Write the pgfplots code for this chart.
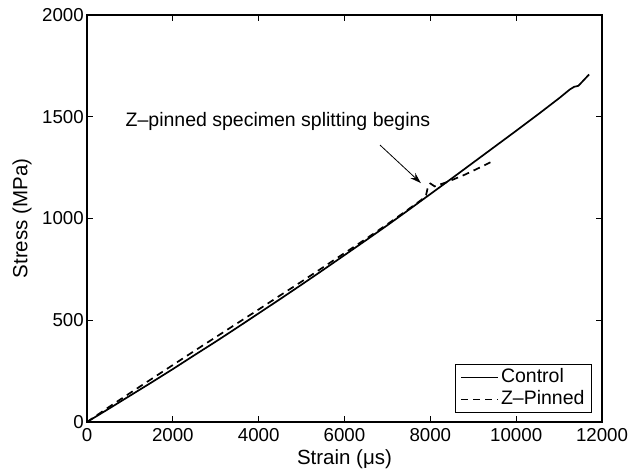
\documentclass[border=0pt]{standalone}
\usepackage{fontspec}
\setmainfont{Liberation Sans}
\usepackage{pgfplots}
\pgfplotsset{compat=1.18}
\usetikzlibrary{arrows.meta}

\newcommand{\tickfont}{\fontsize{18.7bp}{22bp}\selectfont}
\newcommand{\txtfont}{\fontsize{19.5bp}{23bp}\selectfont}
\newcommand{\labfont}{\fontsize{20.5bp}{24bp}\selectfont}

\begin{document}
\begin{tikzpicture}
	\begin{axis}[
		scale only axis,
		width=515bp, height=407bp,
		xmin=0, xmax=12000,
		ymin=0, ymax=2000,
		xtick={0,2000,4000,6000,8000,10000,12000},
		ytick={0,500,1000,1500,2000},
		scaled x ticks=false,
		/pgf/number format/assume math mode=true,
		/pgf/number format/set thousands separator={},
		tick align=inside,
		major tick length=6bp,
		axis line style={line width=1.2bp},
		every tick/.style={black, line width=1bp},
		ticklabel style={font=\tickfont},
		xticklabel style={inner sep=0pt, yshift=-6bp},
		yticklabel style={inner sep=0pt, xshift=-3bp},
		xlabel={Strain (μs)},
		ylabel={Stress (MPa)},
		xlabel style={font=\labfont, inner sep=0pt, at={(axis description cs:0.5,0)}, anchor=north, yshift=-27bp},
		ylabel style={font=\labfont, inner sep=0pt, at={(axis description cs:-0.1262,0.5)}, anchor=center},
		legend style={font=\txtfont, at={(axis description cs:0.9806,0.0221)}, anchor=south east,
			draw=black, line width=1bp, inner xsep=5bp, inner ysep=2bp,
			nodes={text height=14bp, text depth=4bp, inner sep=2bp}},
		legend cell align=left,
		legend image code/.code={\draw[#1] (0bp,0bp) -- (37bp,0bp);},
		]

		% Control specimen
		\addplot[black, line width=1.7bp] coordinates {
			(0,0) (500,64) (1000,129) (1500,194) (2000,260) (2500,328) (3000,395)
			(3500,464) (4000,534) (4500,604) (5000,675) (5500,747) (6000,820)
			(6500,893) (7000,967) (7500,1043) (8000,1120) (8500,1197) (9000,1275)
			(9500,1353) (10000,1431) (10500,1510) (11000,1591) (11250,1634)
			(11350,1647) (11450,1652) (11700,1708)};
		\addlegendentry{Control}

		% Z-pinned specimen
		\addplot[black, line width=1.7bp, dash pattern=on 7bp off 5bp] coordinates {
			(0,0) (500,72) (1000,142) (1500,211) (2000,280) (2500,349) (3000,417)
			(3500,485) (4000,553) (4500,622) (5000,690) (5500,760) (6000,830)
			(6500,900) (7000,972) (7500,1047) (7800,1093) (7900,1115) (7950,1160)
			(8000,1172) (8100,1158) (8400,1180) (8800,1215) (9100,1245) (9400,1276)};
		\addlegendentry{Z–Pinned}

		\node[font=\txtfont, anchor=base, inner sep=0pt] at (axis cs:4450,1450) {Z–pinned specimen splitting begins};
		\draw[line width=0.8bp, -{Stealth[length=11bp, width=7bp]}] (axis cs:6827,1361) -- (axis cs:7780,1174);
	\end{axis}
	\path[use as bounding box] (-87bp,-50bp) rectangle (544bp,422bp);
\end{tikzpicture}
\end{document}
